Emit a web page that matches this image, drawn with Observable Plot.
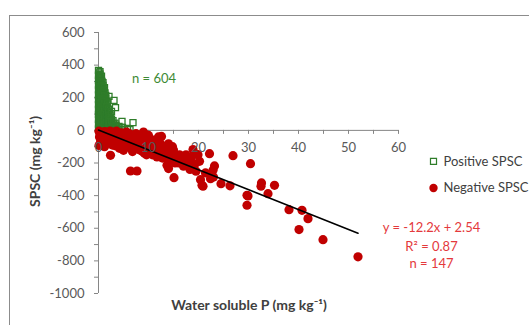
<!DOCTYPE html>
<html>
<head>
<meta charset="utf-8">
<script src="https://cdn.jsdelivr.net/npm/d3@7"></script>
<script src="https://cdn.jsdelivr.net/npm/@observablehq/plot@0.6"></script>
<style>
  html, body { margin: 0; padding: 0; background: #fff; }
  #chart { position: relative; width: 529px; height: 325px; overflow: hidden; }
  #chart svg { display: block; }
</style>
</head>
<body>
<div id="chart"></div>
<script>
// Positive SPSC (open green squares), n = 604 (representative visible points)
const posX = [
  0.0,0.1,0.0,0.2,0.0,0.1,0.0,0.2,0.0,0.1,0.0,0.2,0.0,0.1,0.0,0.2,0.0,0.1,0.0,0.2,0.0,0.1,0.0,0.2,0.0,
  0.3,0.3,0.3,0.3,0.3,0.3,0.3,0.3,0.3,0.3,0.3,0.3,0.3,0.3,0.3,0.3,0.3,0.3,0.3,0.3,0.3,0.3,0.3,0.3,
  0.6,0.5,0.7,0.6,0.5,0.7,0.6,0.5,0.7,0.6,0.5,0.7,0.6,0.5,0.7,0.6,0.5,0.7,0.6,0.5,0.6,
  0.9,0.9,0.9,0.9,0.9,0.9,0.9,0.9,0.9,0.9,0.9,0.9,0.9,0.9,0.9,0.9,0.9,0.9,0.9,
  1.2,1.1,1.3,1.2,1.1,1.3,1.2,1.1,1.3,1.2,1.1,1.3,1.2,1.1,1.2,1.1,1.3,
  1.45,1.45,1.45,1.45,1.45,1.45,1.45,1.45,1.45,1.45,1.45,1.45,1.45,1.45,
  1.7,1.8,1.6,1.7,1.8,1.6,1.7,1.8,1.6,1.7,1.8,1.7,
  2.0,2.0,2.0,2.0,2.0,2.0,2.0,2.0,
  2.3,2.2,2.4,2.3,2.2,2.4,2.3,
  2.6,2.6,2.6,2.6,
  2.9,3.0,2.8,3.0,
  3.3,3.3,3.3,
  3.5,3.6,3.9,3.9,4.1,4.3,4.8,5.2,5.8,6.3,
  2.1,3.1,3.4,2.3,4.7,6.9,2.6];
const posY = [
  368,352,338,322,308,292,278,262,248,232,218,202,188,172,158,142,128,112,98,82,68,52,38,22,8,
  360,344,330,314,300,284,270,254,240,224,210,194,180,164,150,134,120,104,90,74,60,44,30,14,
  332,316,300,284,268,252,236,220,204,188,172,156,140,124,108,92,76,60,44,28,12,
  292,276,260,244,228,212,196,180,164,148,132,116,100,84,68,52,36,20,4,
  262,246,230,214,198,182,166,150,134,118,102,86,70,54,38,22,8,
  214,198,182,166,150,134,118,102,86,70,54,38,22,8,
  178,162,146,130,114,98,82,66,50,34,18,6,
  130,112,94,76,58,40,24,10,
  96,80,64,48,32,18,5,
  70,50,30,14,
  60,40,22,8,
  44,26,10,
  30,12,20,5,24,8,18,6,12,5,
  208,184,139,92,55,47,116];

// Negative SPSC (filled red dots), n = 147
const negX = [0.1,0.3,0.2,0.5,0.1,0.8,0.6,1.0,0.4,
  1.3,1.5,1.8,2.0,2.2,2.4,2.6,2.8,3.0,3.2,1.2,
  3.5,3.8,4.0,4.2,4.5,4.8,5.0,5.2,4.4,
  5.5,5.8,6.0,6.2,6.4,6.6,6.8,7.0,7.3,7.7,7.5,
  7.8,8.0,8.3,8.4,8.6,9.0,9.2,9.5,9.8,10.0,10.0,10.3,9.0,
  10.6,10.8,11.0,11.4,11.7,12.0,12.2,12.4,12.6,12.8,13.0,13.3,
  13.7,14.0,14.0,14.4,14.6,15.0,15.1,15.4,15.7,16.0,14.8,16.2,
  16.6,17.0,17.3,17.7,17.9,18.3,18.6,18.9,19.2,19.5,19.9,20.2,
  20.4,20.7,20.9,21.4,22.2,22.4,22.9,23.2,23.0,24.5,26.3,26.9,29.7,29.7,30.4,29.9,
  32.6,32.5,33.9,35.2,38.1,40.7,41.9,40.1,44.9,51.9,
  0.7,1.1,1.6,2.3,2.9,3.4,3.6,4.1,4.6,5.3,5.6,6.1,6.9,7.1,7.9,8.2,8.8,9.3,9.6,10.2,10.9,11.2,11.8,12.5,13.1,13.5,14.2,15.3,16.4,17.5,18.1];
const negY = [-5,-20,-40,-60,-92,-10,-30,-45,-75,
  -8,-25,-50,-15,-70,-153,-35,-90,-10,-55,-100,
  -25,-75,-40,-110,-15,-60,-122,-30,-90,
  -80,-45,-100,-20,-249,-70,-130,-50,-95,-249,-20,
  -70,-115,-40,-122,-85,-60,-140,-100,-30,-75,-31,-125,-10,
  -90,-150,-60,-110,-163,-40,-130,-82,-37,-170,-100,-140,
  -214,-82,-234,-143,-180,-120,-290,-160,-184,-200,-100,-150,
  -175,-220,-195,-184,-188,-240,-165,-118,-210,-250,-149,-190,
  -302,-337,-342,-261,-143,-296,-245,-218,-286,-327,-340,-155,-398,-459,-204,-402,
  -322,-342,-388,-337,-486,-490,-541,-608,-670,-775,
  -15,-25,-65,-5,-45,-95,-5,-65,-35,-105,-10,-55,-85,-110,-30,-100,-130,-75,-150,-105,-120,-85,-140,-155,-120,-165,-125,-200,-175,-150,-205];

// Regression: y = -12.2x + 2.54
const slope = -12.2, intercept = 2.54;
const fitX = [0, d3.max(negX)];

// Axis ticks
const xTickLabels = [0,10,20,30,40,50,60];
const xTicks = d3.range(0, 61, 5);
const yTickLabels = [600,400,200,0,-200,-400,-600,-800,-1000];
const yTicks = d3.range(-1000, 601, 100);

const pos = posX.map((x, i) => ({x, y: posY[i]}));
const neg = negX.map((x, i) => ({x, y: negY[i]}));
const fit = fitX.map(x => ({x, y: slope * x + intercept}));

const green = "#2f7d2a", red = "#c00000", labelRed = "#e4393c", grey = "#595959";
const pxY = 1600 / 261; // data units per pixel on y (approx)

const chart = Plot.plot({
  width: 529,
  height: 325,
  marginLeft: 98,
  marginRight: 131,
  marginTop: 32,
  marginBottom: 32,
  x: {domain: [0, 60], axis: null},
  y: {domain: [-1000, 600], axis: null},
  style: {fontFamily: "Lato, 'Open Sans', sans-serif", fontSize: "13px", background: "#fff", overflow: "visible"},
  marks: [
    // axis lines
    Plot.ruleX([0], {y1: -1000, y2: 600, stroke: "#868686", strokeWidth: 1}),
    Plot.ruleY([0], {x1: 0, x2: 60, stroke: "#868686", strokeWidth: 1}),
    Plot.ruleY(yTicks, {y: d => d, x1: 0, x2: -0.8, stroke: "#868686"}),
    Plot.ruleX(xTicks, {x: d => d, y1: 0, y2: -4 * pxY, stroke: "#868686"}),
    // data
    Plot.dot(pos, {x: "x", y: "y", symbol: "square", r: 3.4, stroke: green, strokeWidth: 1.3, fill: "none"}),
    Plot.dot(neg, {x: "x", y: "y", r: 4.6, fill: red, stroke: "none"}),
    Plot.line(fit, {x: "x", y: "y", stroke: "#000", strokeWidth: 1.6}),
    // tick labels
    Plot.text(yTickLabels, {x: 0, y: d => d, dx: -14, textAnchor: "end", text: d => String(d), fill: grey}),
    Plot.text(xTickLabels, {x: d => d, y: 0, dy: 17, text: d => String(d), fill: grey}),
    // axis titles
    Plot.text(["Water soluble P (mg kg\u207B\u00B9)"], {x: 30.1, y: -1071, fontWeight: "bold", fontSize: 14, fill: "#404040"}),
    Plot.text(["SPSC (mg kg\u207B\u00B9)"], {x: -12.6, y: -190, rotate: -90, fontWeight: "bold", fontSize: 14, fill: "#404040"}),
    // annotations
    Plot.text(["n = 604"], {x: 11.1, y: 318, fill: "#3d8a35"}),
    Plot.text(["y = -12.2x + 2.54"], {x: 66.6, y: -600, fill: labelRed}),
    Plot.text(["R\u00B2 = 0.87"], {x: 66.6, y: -716, fill: labelRed}),
    Plot.text(["n = 147"], {x: 66.6, y: -820, fill: labelRed}),
    // legend
    Plot.dot([{x: 67.0, y: -190}], {x: "x", y: "y", symbol: "square", r: 3.4, stroke: green, strokeWidth: 1.2, fill: "none"}),
    Plot.dot([{x: 67.0, y: -353}], {x: "x", y: "y", r: 4.2, fill: red}),
    Plot.text(["Positive SPSC"], {x: 69, y: -190, textAnchor: "start", fill: "#404040"}),
    Plot.text(["Negative SPSC"], {x: 69, y: -353, textAnchor: "start", fill: "#404040"})
  ]
});

// outer chart-area border (extends beyond the visible window, as in the reference)
d3.select(chart).insert("rect", ":first-child")
  .attr("x", 9.5).attr("y", 15.5).attr("width", 700).attr("height", 500)
  .attr("fill", "none").attr("stroke", "#8c8c8c");

document.getElementById("chart").appendChild(chart);
</script>
</body>
</html>
